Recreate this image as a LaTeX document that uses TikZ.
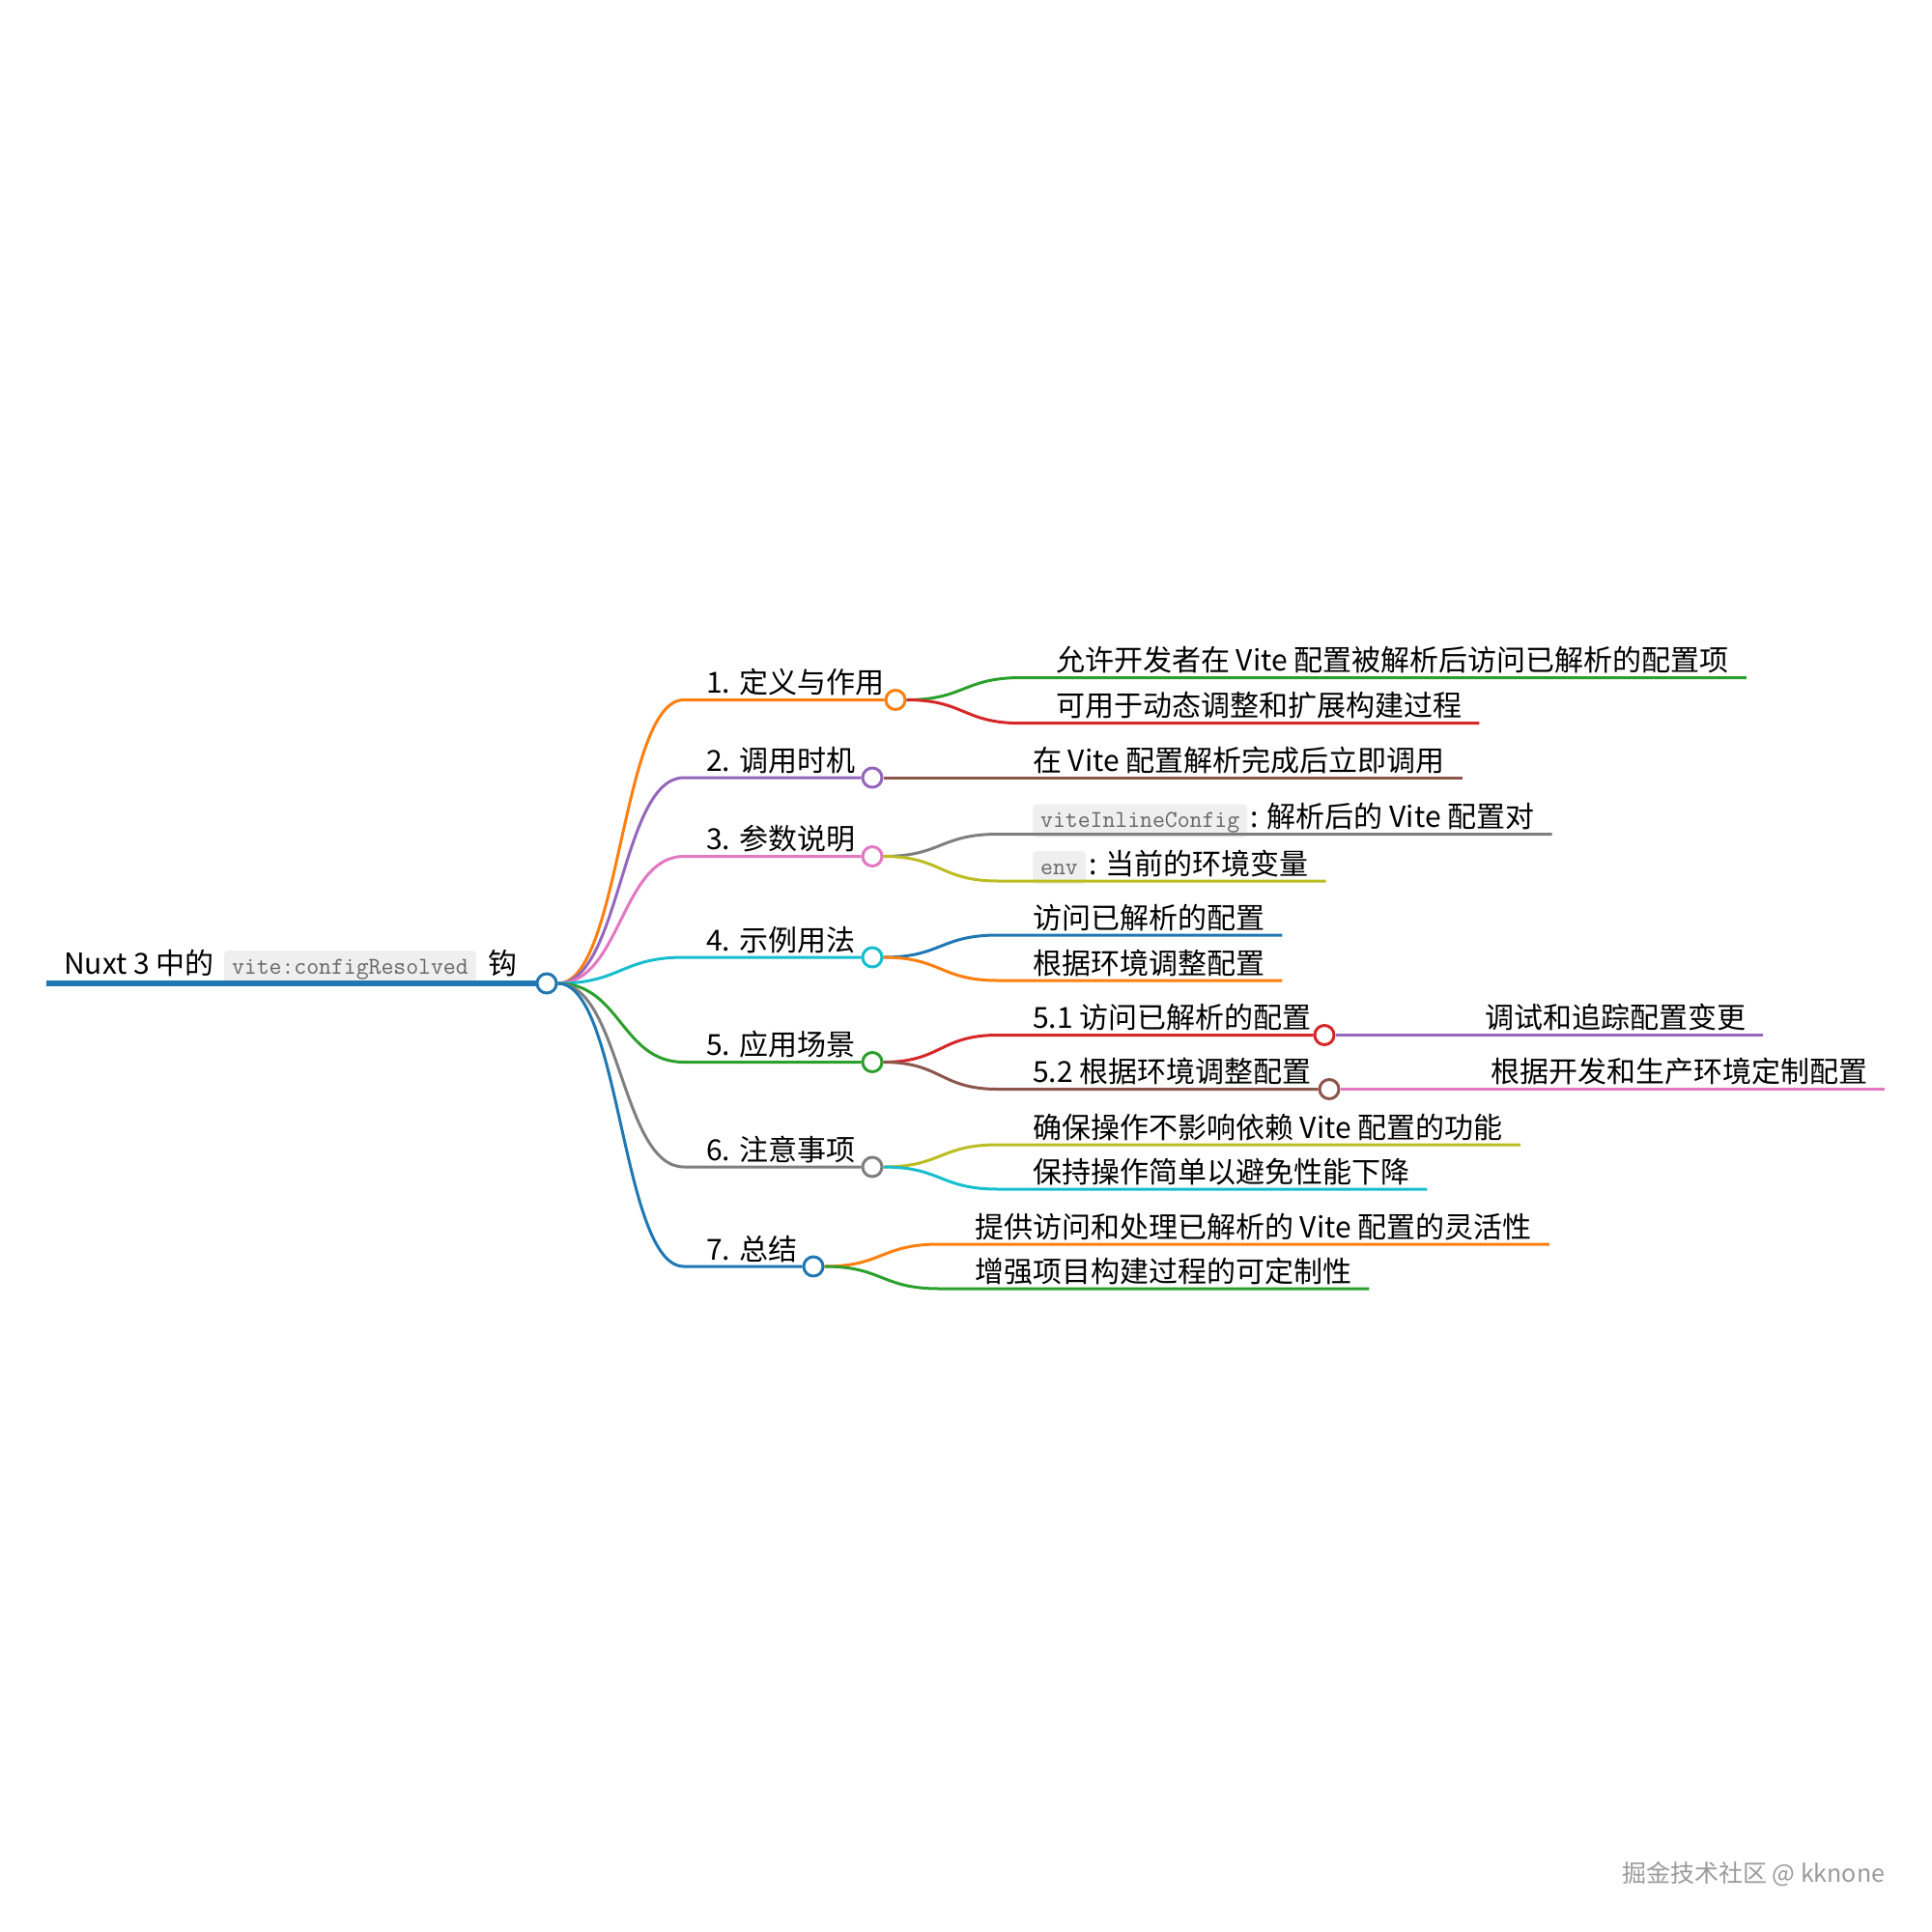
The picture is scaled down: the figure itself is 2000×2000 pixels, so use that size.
\documentclass[tikz,border=0pt]{standalone}
\usepackage{fontspec}
\setmainfont{Noto Sans CJK SC}
\usetikzlibrary{positioning,calc}
\definecolor{cblue}{HTML}{1f77b4}
\definecolor{corange}{HTML}{ff7f0e}
\definecolor{cgreen}{HTML}{2ca02c}
\definecolor{cred}{HTML}{d62728}
\definecolor{cpurple}{HTML}{9467bd}
\definecolor{cbrown}{HTML}{8c564b}
\definecolor{cpink}{HTML}{e377c2}
\definecolor{cgray}{HTML}{7f7f7f}
\definecolor{colive}{HTML}{bcbd22}
\definecolor{ccyan}{HTML}{17becf}
\definecolor{codebg}{HTML}{efefef}
\definecolor{codefg}{HTML}{666666}
\definecolor{wmgray}{HTML}{9a9a9a}
\begin{document}
\begin{tikzpicture}[x=1pt,y=-1pt,
  txt/.style={anchor=base west,inner sep=0pt,font=\fontsize{30}{36}\selectfont},
  codebox/.style={anchor=base west,fill=codebg,rounded corners=4pt,inner xsep=8pt,inner ysep=0pt,
    minimum height=34pt,text height=18pt,text depth=4pt,text=codefg,font=\ttfamily\fontsize{25}{30}\selectfont},
  hub/.style={circle,draw=#1,fill=white,line width=3pt,minimum size=20pt,inner sep=0pt},
  link/.style={draw=#1,line width=3pt}]
\fill[white] (0,0) rectangle (2000,2000);
\useasboundingbox (0,0) rectangle (2000,2000);
% root
\coordinate (r0) at (48,1018);
\node[hub=cblue] (root) at (566,1018) {};
\node[txt] (rt) at (66,1008) {Nuxt 3 中的};
\node[codebox] (rc) at ([xshift=10pt]rt.base east) {vite:configResolved};
\node[txt] (rh) at ([xshift=12pt]rc.base east) {钩};
\draw[cblue,line width=6pt] (r0) -- (root.west);
% first level
\node[hub=corange] (c1) at (927,724.5) {};
\node[hub=cpurple] (c2) at (903,805) {};
\node[hub=cpink] (c3) at (903,886.5) {};
\node[hub=ccyan] (c4) at (903,991) {};
\node[hub=cgreen] (c5) at (903,1099.5) {};
\node[hub=cgray] (c6) at (903,1208) {};
\node[hub=cblue] (c7) at (842,1311) {};
\node[txt] (t1) at (731,717.5) {1. 定义与作用};
\node[txt] (t2) at (731,798) {2. 调用时机};
\node[txt] (t3) at (731,879.5) {3. 参数说明};
\node[txt] (t4) at (731,984) {4. 示例用法};
\node[txt] (t5) at (731,1092.5) {5. 应用场景};
\node[txt] (t6) at (731,1201) {6. 注意事项};
\node[txt] (t7) at (731,1304) {7. 总结};
\coordinate (s1) at (708,724.5);
\coordinate (s2) at (708,805);
\coordinate (s3) at (708,886.5);
\coordinate (s4) at (708,991);
\coordinate (s5) at (708,1099.5);
\coordinate (s6) at (708,1208);
\coordinate (s7) at (708,1311);
\draw[link=corange] (root.east) .. controls +(65,0) and +(-65,0) .. (s1) -- (c1.west);
\draw[link=cpurple] (root.east) .. controls +(65,0) and +(-65,0) .. (s2) -- (c2.west);
\draw[link=cpink] (root.east) .. controls +(65,0) and +(-65,0) .. (s3) -- (c3.west);
\draw[link=ccyan] (root.east) .. controls +(65,0) and +(-65,0) .. (s4) -- (c4.west);
\draw[link=cgreen] (root.east) .. controls +(65,0) and +(-65,0) .. (s5) -- (c5.west);
\draw[link=cgray] (root.east) .. controls +(65,0) and +(-65,0) .. (s6) -- (c6.west);
\draw[link=cblue] (root.east) .. controls +(65,0) and +(-65,0) .. (s7) -- (c7.west);
% 1
\coordinate (s1a) at (1057,701.5);
\coordinate (s1b) at (1057,748.7);
\node[txt] (t1a) at (1093,694.5) {允许开发者在 Vite 配置被解析后访问已解析的配置项};
\node[txt] (t1b) at (1093,741.7) {可用于动态调整和扩展构建过程};
\draw[link=cgreen] (c1.east) .. controls +(60,0) and +(-60,0) .. (s1a) -- ($(s1a -| t1a.east)+(18,0)$);
\draw[link=cred] (c1.east) .. controls +(60,0) and +(-60,0) .. (s1b) -- ($(s1b -| t1b.east)+(18,0)$);
% 2
\node[txt] (t2a) at (1069,798) {在 Vite 配置解析完成后立即调用};
\draw[link=cbrown] (c2.east) -- ($(c2.east -| t2a.east)+(18,0)$);
% 3
\coordinate (s3a) at (1033,863.5);
\coordinate (s3b) at (1033,912);
\node[codebox] (k3a) at (1069,856.5) {viteInlineConfig};
\node[txt] (t3a) at ([xshift=3pt]k3a.base east) {: 解析后的 Vite 配置对};
\node[codebox] (k3b) at (1069,905) {env};
\node[txt] (t3b) at ([xshift=3pt]k3b.base east) {: 当前的环境变量};
\draw[link=cgray] (c3.east) .. controls +(60,0) and +(-60,0) .. (s3a) -- ($(s3a -| t3a.east)+(18,0)$);
\draw[link=colive] (c3.east) .. controls +(60,0) and +(-60,0) .. (s3b) -- ($(s3b -| t3b.east)+(18,0)$);
% 4
\coordinate (s4a) at (1033,968);
\coordinate (s4b) at (1033,1015);
\node[txt] (t4a) at (1069,961) {访问已解析的配置};
\node[txt] (t4b) at (1069,1008) {根据环境调整配置};
\draw[link=cblue] (c4.east) .. controls +(60,0) and +(-60,0) .. (s4a) -- ($(s4a -| t4a.east)+(18,0)$);
\draw[link=corange] (c4.east) .. controls +(60,0) and +(-60,0) .. (s4b) -- ($(s4b -| t4b.east)+(18,0)$);
% 5
\node[hub=cred] (c51) at (1371,1071.5) {};
\node[hub=cbrown] (c52) at (1376,1127.5) {};
\coordinate (s5a) at (1033,1071.5);
\coordinate (s5b) at (1033,1127.5);
\node[txt] (t51) at (1069,1064.5) {5.1 访问已解析的配置};
\node[txt] (t52) at (1069,1120.5) {5.2 根据环境调整配置};
\draw[link=cred] (c5.east) .. controls +(60,0) and +(-60,0) .. (s5a) -- (c51.west);
\draw[link=cbrown] (c5.east) .. controls +(60,0) and +(-60,0) .. (s5b) -- (c52.west);
\node[txt] (t51a) at (1537,1064.5) {调试和追踪配置变更};
\node[txt] (t52a) at (1543,1120.5) {根据开发和生产环境定制配置};
\draw[link=cpurple] (c51.east) -- ($(c51.east -| t51a.east)+(18,0)$);
\draw[link=cpink] (c52.east) -- ($(c52.east -| t52a.east)+(18,0)$);
% 6
\coordinate (s6a) at (1033,1185);
\coordinate (s6b) at (1033,1231);
\node[txt] (t6a) at (1069,1178) {确保操作不影响依赖 Vite 配置的功能};
\node[txt] (t6b) at (1069,1224) {保持操作简单以避免性能下降};
\draw[link=colive] (c6.east) .. controls +(60,0) and +(-60,0) .. (s6a) -- ($(s6a -| t6a.east)+(18,0)$);
\draw[link=ccyan] (c6.east) .. controls +(60,0) and +(-60,0) .. (s6b) -- ($(s6b -| t6b.east)+(18,0)$);
% 7
\coordinate (s7a) at (972,1288);
\coordinate (s7b) at (972,1334);
\node[txt] (t7a) at (1009,1281) {提供访问和处理已解析的 Vite 配置的灵活性};
\node[txt] (t7b) at (1009,1327) {增强项目构建过程的可定制性};
\draw[link=corange] (c7.east) .. controls +(60,0) and +(-60,0) .. (s7a) -- ($(s7a -| t7a.east)+(18,0)$);
\draw[link=cgreen] (c7.east) .. controls +(60,0) and +(-60,0) .. (s7b) -- ($(s7b -| t7b.east)+(18,0)$);
\node[anchor=base west,inner sep=0pt,font=\fontsize{25}{30}\selectfont,text=wmgray] (wm) at (1679,1948) {掘金技术社区 @ kknone};
\end{tikzpicture}
\end{document}
